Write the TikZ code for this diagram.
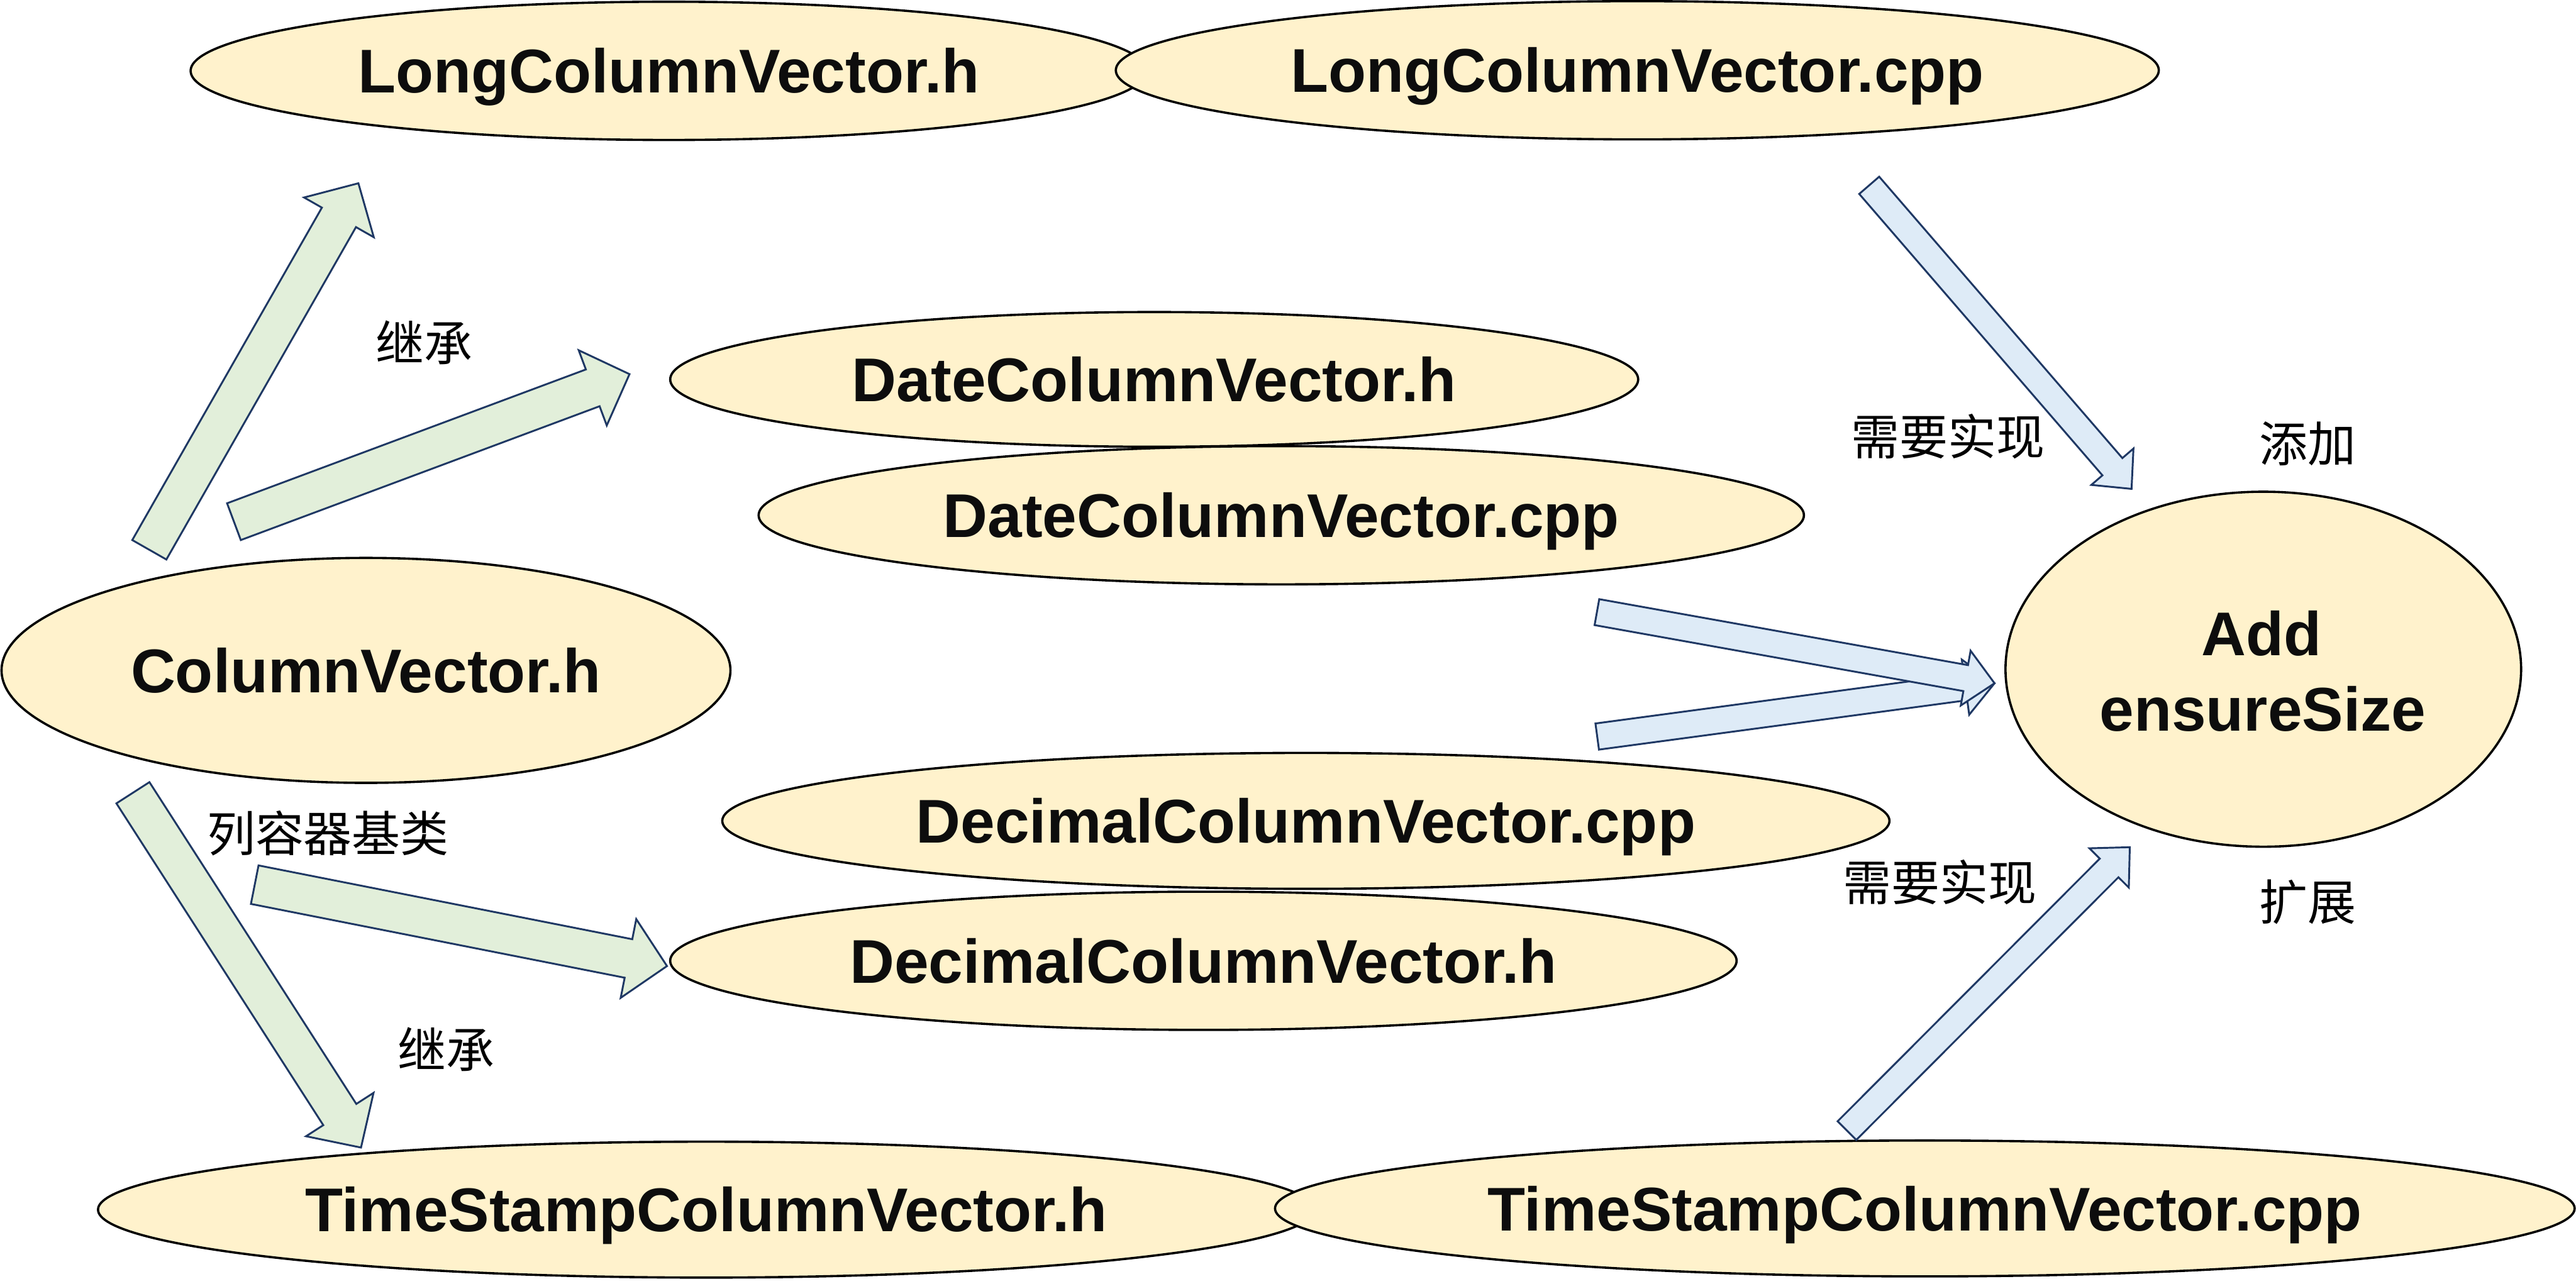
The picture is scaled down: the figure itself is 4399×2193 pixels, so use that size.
\documentclass[tikz,border=0pt]{standalone}
\usepackage{fontspec}
\setmainfont{Liberation Sans}
\newfontfamily\cjk{Noto Sans CJK SC}
\usetikzlibrary{shapes.geometric,calc}
\definecolor{ellfill}{HTML}{FFF2CC}
\definecolor{grfill}{HTML}{E2EFDA}
\definecolor{blfill}{HTML}{DEEBF7}
\definecolor{arrline}{HTML}{1F3864}
\definecolor{txt}{HTML}{0D0D0D}
% #1 style, #2 tail, #3 tip, #4 shaft half width, #5 head half width, #6 head length
\newcommand\blockarr[6]{%
  \coordinate (bah) at ($(#3)!#6!(#2)$);
  \draw[#1] ($(#2)!#4!90:(#3)$) -- ($(bah)!#4!90:(#3)$) -- ($(bah)!#5!90:(#3)$) -- (#3)
    -- ($(bah)!#5!-90:(#3)$) -- ($(bah)!#4!-90:(#3)$) -- ($(#2)!#4!-90:(#3)$) -- cycle;
}
\begin{document}
\begin{tikzpicture}[x=0.01cm,y=-0.01cm,
  file/.style={ellipse, draw=black, line width=1.1pt, fill=ellfill, inner sep=0pt,
    font=\bfseries\fontsize{30}{35}\selectfont, text=txt, text height=21.5pt, text depth=0pt},
  ftext/.style={inner sep=0pt, font=\bfseries\fontsize{30}{35}\selectfont, text=txt},
  lbl/.style={inner sep=0pt, font=\cjk\fontsize{23.5}{28}\selectfont, text=black},
  grarrow/.style={draw=arrline, line width=0.9pt, fill=grfill, line join=miter},
  blarrow/.style={draw=arrline, line width=0.9pt, fill=blfill, line join=miter}]
\useasboundingbox (0,0) rectangle (4399,2193);
% ellipses
\node[file, minimum width=16.32cm, minimum height=2.36cm] (lh) at (1142,121) {LongColumnVector.h};
\node[file, minimum width=17.80cm, minimum height=2.36cm] (lcpp) at (2796,120) {LongColumnVector.cpp};
\node[file, minimum width=16.52cm, minimum height=2.30cm] (dh) at (1971,648) {DateColumnVector.h};
\node[file, minimum width=17.84cm, minimum height=2.36cm] (dcpp) at (2188,880) {DateColumnVector.cpp};
\node[file, minimum width=12.44cm, minimum height=3.84cm] (cv) at (625,1145) {ColumnVector.h};
\node[file, minimum width=8.80cm, minimum height=6.06cm] (add) at (3865,1143) {};
\node[ftext, anchor=base] (addl1) at (3862,1120) {Add};
\node[ftext, anchor=base] (addl2) at (3864,1249) {ensureSize};
\node[file, minimum width=19.92cm, minimum height=2.32cm] (deccpp) at (2230,1402) {DecimalColumnVector.cpp};
\node[file, minimum width=18.20cm, minimum height=2.36cm] (dech) at (2055,1641) {DecimalColumnVector.h};
\node[file, minimum width=20.76cm, minimum height=2.32cm] (tsh) at (1206,2066) {TimeStampColumnVector.h};
\node[file, minimum width=22.18cm, minimum height=2.32cm] (tscpp) at (3287,2064) {TimeStampColumnVector.cpp};
% arrow end points
\coordinate (g1s) at (255,939);   \coordinate (g1e) at (612,313);
\coordinate (g2s) at (399.5,891); \coordinate (g2e) at (1075,639);
\coordinate (g3s) at (227,1354);  \coordinate (g3e) at (616.5,1960);
\coordinate (g4s) at (435,1511);  \coordinate (g4e) at (1139,1650);
\coordinate (b1s) at (3192,316.5); \coordinate (b1e) at (3640,835);
\coordinate (b2s) at (2727,1045.5); \coordinate (b2e) at (3406,1167);
\coordinate (b3s) at (2727.5,1258); \coordinate (b3e) at (3406,1167);
\coordinate (b4s) at (3154,1931); \coordinate (b4e) at (3637,1447);
% green arrows
\blockarr{grarrow}{g1s}{g1e}{0.335cm}{0.685cm}{0.67cm}
\blockarr{grarrow}{g2s}{g2e}{0.335cm}{0.685cm}{0.67cm}
\blockarr{grarrow}{g3s}{g3e}{0.335cm}{0.685cm}{0.67cm}
\blockarr{grarrow}{g4s}{g4e}{0.335cm}{0.685cm}{0.67cm}
% blue arrows
\blockarr{blarrow}{b1s}{b1e}{0.225cm}{0.475cm}{0.5cm}
\blockarr{blarrow}{b3s}{b3e}{0.225cm}{0.475cm}{0.5cm}
\blockarr{blarrow}{b2s}{b2e}{0.225cm}{0.475cm}{0.5cm}
\blockarr{blarrow}{b4s}{b4e}{0.225cm}{0.475cm}{0.5cm}
% labels
\node[lbl] (inh1) at (724,585) {继承};
\node[lbl] (base) at (560,1423) {列容器基类};
\node[lbl] (inh2) at (762,1792) {继承};
\node[lbl] (impl1) at (3327,745) {需要实现};
\node[lbl] (impl2) at (3313,1507) {需要实现};
\node[lbl] (addlbl) at (3941,758) {添加};
\node[lbl] (extlbl) at (3941,1541) {扩展};
\end{tikzpicture}
\end{document}
